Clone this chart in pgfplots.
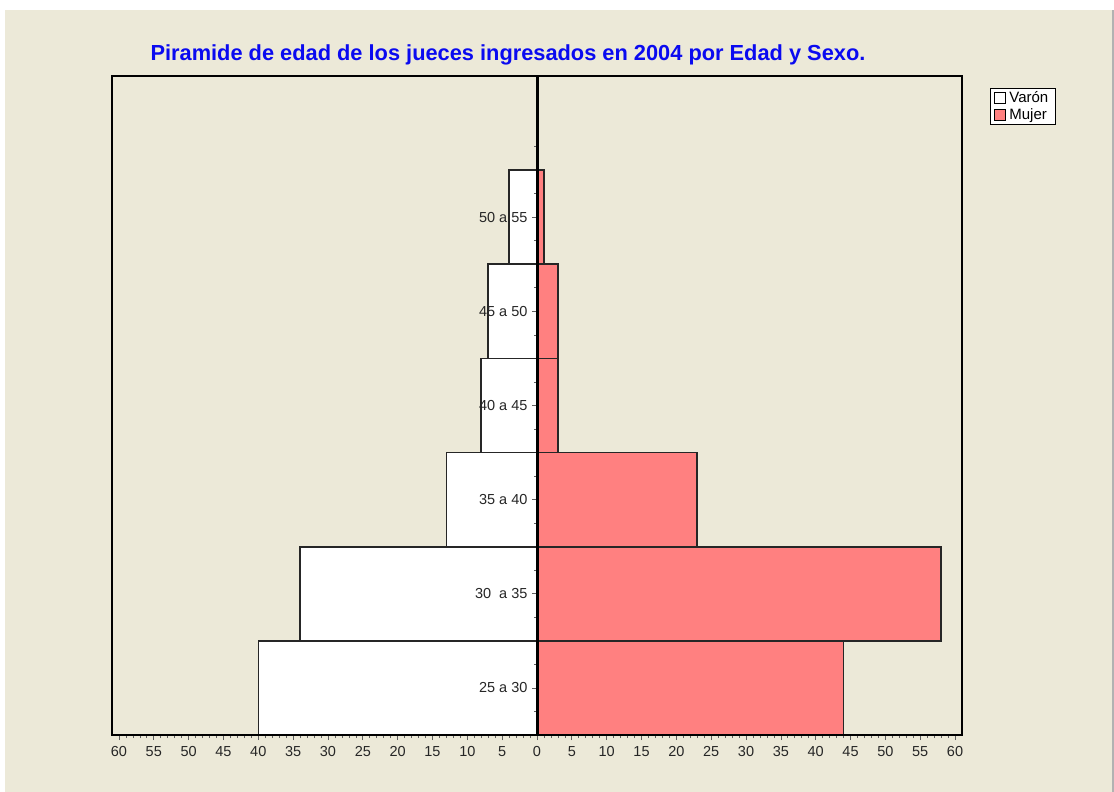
\documentclass[border=0pt]{standalone}
\usepackage{fontspec}
\setmainfont{Liberation Sans}
\usepackage{pgfplots}
\pgfplotsset{compat=1.18}
\definecolor{bg}{HTML}{ECE9D8}
\definecolor{mujer}{HTML}{FF8080}
\definecolor{titleblue}{HTML}{0A0AF0}
\definecolor{tickgray}{HTML}{606060}
\begin{document}
\begin{tikzpicture}[x=1pt,y=1pt]
% page background
\fill[white] (0,0) rectangle (1114,-792);
\fill[bg] (5,-10) rectangle (1112,-792);
\fill[gray!60] (1112,-10) rectangle (1114,-792);
\node[font=\fontsize{21.8}{24}\selectfont\bfseries, text=titleblue] at (508,-55)
  {Piramide de edad de los jueces ingresados en 2004 por Edad y Sexo.};
\begin{axis}[
    at={(112pt,-735pt)}, anchor=south west,
    scale only axis, width=850pt, height=659pt,
    xmin=-61, xmax=61, ymin=-0.5, ymax=6.5,
    xbar, bar width=1, bar shift=0pt,
    axis x line=bottom, axis y line=center,
    axis line style={-, black, line width=1.5pt},
    y axis line style={line width=3pt},
    axis on top, clip=false,
    tick align=outside,
    xtick={-60,-55,...,60},
    minor x tick num=4,
    xticklabel={\pgfmathparse{abs(\tick)}\pgfmathprintnumber{\pgfmathresult}},
    /pgf/number format/assume math mode=true,
    x tick label style={font=\fontsize{14.5}{16}\selectfont, text=black!85, yshift=-3pt},
    ytick={0,...,5},
    yticklabels={25 a 30, 30\ \ a 35, 35 a 40, 40 a 45, 45 a 50, 50 a 55},
    minor ytick={-0.25,0.25,0.75,1.25,1.75,2.25,2.75,3.25,3.75,4.25,4.75,5.25,5.75},
    y tick label style={font=\fontsize{14.5}{16}\selectfont, text=black!85, xshift=-1pt},
    major tick length=5pt, minor tick length=3pt,
    every tick/.style={tickgray, line width=0.7pt},
    legend style={at={(1.033,0.982)}, anchor=north west, draw=black, fill=white,
      line width=0.9pt,
      font=\fontsize{15}{17}\selectfont, inner xsep=3pt, inner ysep=1.5pt, row sep=0pt,
      nodes={inner xsep=4pt},
      legend cell align=left},
]
\addplot[fill=white, draw=black!85, line width=1.6pt,
  legend image code/.code={\draw[fill=white, draw=black, line width=0.9pt] (0pt,-5.5pt) rectangle (11pt,5.5pt);}]
  coordinates {(-40,0) (-34,1) (-13,2) (-8,3) (-7,4) (-4,5)};
\addlegendentry{Varón}
\addplot[fill=mujer, draw=black!85, line width=1.6pt,
  legend image code/.code={\draw[fill=mujer, draw=black, line width=0.9pt] (0pt,-5.5pt) rectangle (11pt,5.5pt);}]
  coordinates {(44,0) (58,1) (23,2) (3,3) (3,4) (1,5)};
\addlegendentry{Mujer}
\draw[black, line width=1.5pt] (rel axis cs:0,0) rectangle (rel axis cs:1,1);
\end{axis}
\end{tikzpicture}
\end{document}
